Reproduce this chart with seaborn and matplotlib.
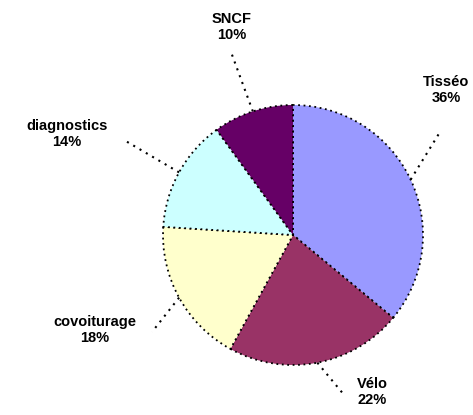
import numpy as np
import matplotlib
matplotlib.use("Agg")
import matplotlib.pyplot as plt
import seaborn as sns

categories = ["Tisséo", "Vélo", "covoiturage", "diagnostics", "SNCF"]
shares = [36, 22, 18, 14, 10]
colors = ["#9999FF", "#993366", "#FFFFCC", "#CCFFFF", "#660066"]

sns.set_theme(style="white")
plt.rcParams['font.family'] = ['Liberation Sans', 'DejaVu Sans']

W, H = 473, 415
fig = plt.figure(figsize=(W / 100, H / 100), dpi=100)
ax = fig.add_axes([0, 0, 1, 1])
ax.set_xlim(0, W)
ax.set_ylim(0, H)
ax.set_aspect("equal")
ax.axis("off")

cx, cy, r = 293, H - 235, 130
wedges, _ = ax.pie(shares, colors=sns.color_palette(colors), startangle=90, counterclock=False,
                   center=(cx, cy), radius=r, frame=False,
                   wedgeprops=dict(edgecolor="black", linewidth=1.3, linestyle=(0, (1, 2))))
ax.set_xlim(0, W)
ax.set_ylim(0, H)

# label anchor positions (pixels, from top-left) and leader-line outer ends
label_pos = [(446, 90), (372, 392), (95, 330), (67, 134), (232, 27)]
leader_end = [(440, 132), (345, 396), (152, 332), (124, 140), (231, 52)]

for w, name, val, (lx, ly), (ex, ey) in zip(wedges, categories, shares, label_pos, leader_end):
    mid = np.deg2rad((w.theta1 + w.theta2) / 2)
    px, py = cx + r * np.cos(mid), cy + r * np.sin(mid)
    ax.plot([px, ex], [py, H - ey], color="black", linewidth=1.5, linestyle=(0, (1, 2.5)))
    ax.text(lx, H - ly, f"{name}\n{val}%", ha="center", va="center", fontsize=10.5,
            fontweight="bold", linespacing=1.15, color="black")

fig.savefig("out.png", dpi=100)
